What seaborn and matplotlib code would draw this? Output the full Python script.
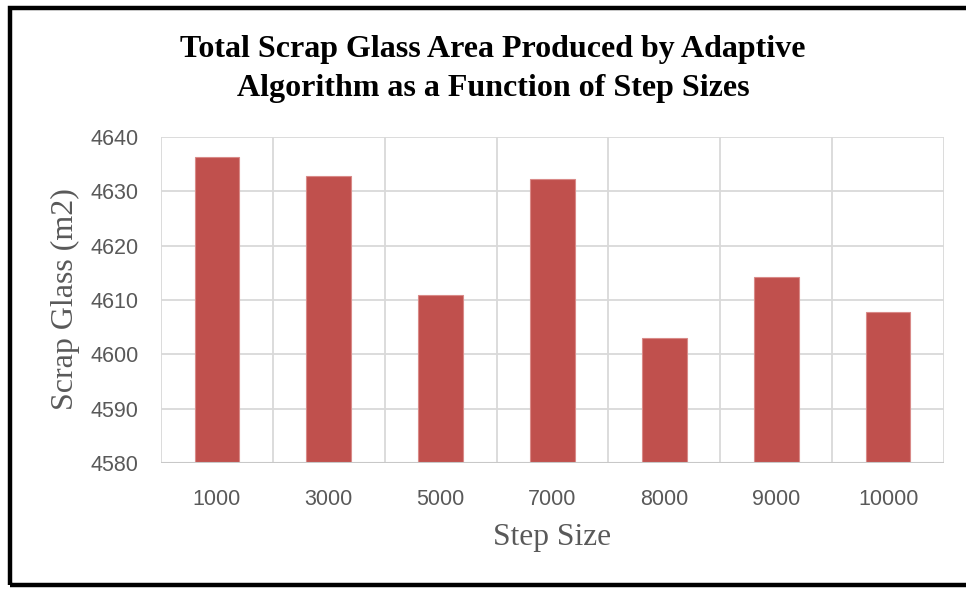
import matplotlib
matplotlib.use("Agg")
import matplotlib.pyplot as plt
from matplotlib.patches import Rectangle
import seaborn as sns
import pandas as pd

step_sizes = ["1000", "3000", "5000", "7000", "8000", "9000", "10000"]
scrap_glass = [4636.4, 4632.9, 4611.0, 4632.2, 4603.0, 4614.3, 4607.7]
y_ticks = [4580, 4590, 4600, 4610, 4620, 4630, 4640]

title_text = "Total Scrap Glass Area Produced by Adaptive\nAlgorithm as a Function of Step Sizes"
x_label = "Step Size"
y_label = "Scrap Glass (m2)"

bar_color = "#C0504D"
grid_color = "#D9D9D9"
text_gray = "#595959"

sns.set_theme(style="white")
plt.rcParams["font.family"] = ["Liberation Sans", "DejaVu Sans"]

df = pd.DataFrame({"step": step_sizes, "scrap": scrap_glass})

W, H = 966, 590
fig = plt.figure(figsize=(W / 100, H / 100), dpi=100)
ax = fig.add_axes([161 / W, 1 - 463 / H, (944 - 161) / W, (463 - 137) / H])

sns.barplot(data=df, x="step", y="scrap", order=step_sizes, color=bar_color,
            width=0.4, saturation=1, edgecolor="#D98A88", linewidth=0.8,
            ax=ax, zorder=3)

ax.set_ylim(y_ticks[0], y_ticks[-1])
ax.set_yticks(y_ticks)
ax.set_xlim(-0.5, len(step_sizes) - 0.5)

# gridlines: horizontal at every tick, vertical at category boundaries
for y in y_ticks:
    ax.axhline(y, color=grid_color, lw=1.3, zorder=1)
for i in range(len(step_sizes) + 1):
    ax.axvline(i - 0.5, color=grid_color, lw=1.3, zorder=1)

for s in ax.spines.values():
    s.set_visible(False)
ax.axhline(y_ticks[0], color="#C8C8C8", lw=1.5, zorder=4)

ax.tick_params(axis="both", length=0, labelsize=15.5, labelcolor=text_gray)
ax.tick_params(axis="y", pad=16)
ax.tick_params(axis="x", pad=19)
ax.set_xlabel("")
ax.set_ylabel("")

fig.text(493 / W, 1 - 69 / H, title_text, ha="center", va="center",
         family=["Liberation Serif"], fontweight="bold", fontsize=23,
         color="black", linespacing=1.42)
fig.text(65 / W, 1 - 299 / H, y_label, rotation=90, ha="center", va="center",
         family=["Liberation Serif"], fontsize=23, color=text_gray)
fig.text(552 / W, 1 - 537 / H, x_label, ha="center", va="center",
         family=["Liberation Serif"], fontsize=22.7, color=text_gray)

# outer frame of the chart
fig.patches.append(Rectangle((10 / W, 1 - 585 / H), 980 / W, 577 / H,
                             transform=fig.transFigure, fill=False,
                             edgecolor="black", linewidth=3.2, zorder=10))

fig.savefig("out.png", dpi=100)
